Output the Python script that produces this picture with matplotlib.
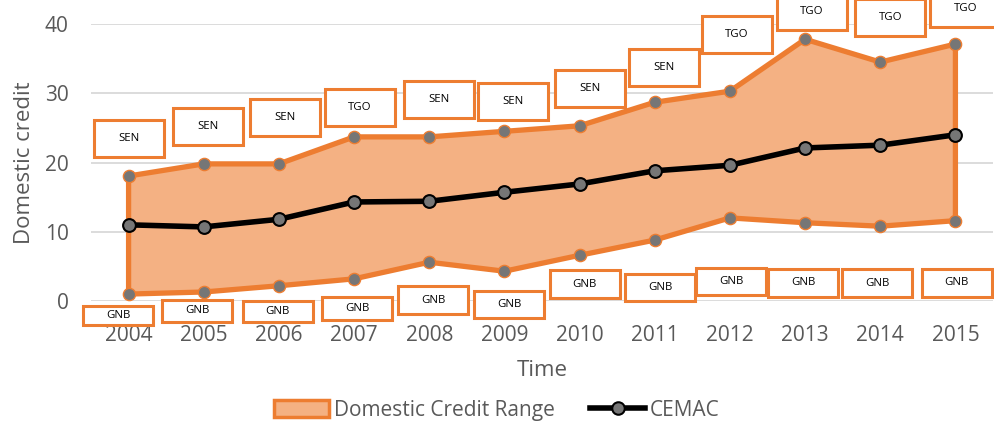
import matplotlib
matplotlib.use("Agg")
import matplotlib.pyplot as plt
import matplotlib.transforms as mtransforms
from matplotlib.patches import Rectangle, Patch
from matplotlib.lines import Line2D
import numpy as np

years = [2004, 2005, 2006, 2007, 2008, 2009, 2010, 2011, 2012, 2013, 2014, 2015]
range_high = [18.05, 19.8, 19.8, 23.7, 23.7, 24.5, 25.3, 28.7, 30.3, 37.8, 34.5, 37.1]
range_low = [1.0, 1.3, 2.2, 3.2, 5.6, 4.3, 6.6, 8.8, 12.0, 11.3, 10.8, 11.6]
cemac = [11.0, 10.7, 11.8, 14.3, 14.4, 15.7, 16.9, 18.8, 19.6, 22.1, 22.5, 24.0]
high_labels = ['SEN', 'SEN', 'SEN', 'TGO', 'SEN', 'SEN', 'SEN', 'SEN', 'TGO', 'TGO', 'TGO', 'TGO']
low_labels = ['GNB'] * 12

# label boxes: pixel offset of box centre from its point, box height (px)
high_offsets = [(0, 38), (4, 37), (6, 46), (6, 29.5), (10, 37.5), (9, 29.5),
                (10, 37.5), (9.5, 34.5), (7, 56.5), (6.5, 27.5), (10, 44.5), (10, 35.5)]
low_offsets = [(-10.5, -21.5), (-6.5, -19), (-1, -25.5), (3, -29.5), (4, -38), (5, -33.5),
               (5, -29), (5.5, -47.5), (1.5, -63.5), (-2, -60), (-3, -57), (1.5, -62)]
low_heights = [19, 22, 21, 23, 28, 27, 28, 27, 27, 28, 28, 28]

orange = '#ED7D31'
fill_col = '#F4B183'
grey_mk = '#767676'
txt_col = '#595959'

plt.rcParams['font.family'] = ['Open Sans', 'DejaVu Sans']

fig = plt.figure(figsize=(9.95, 4.23), dpi=100)
ax = fig.add_axes([91 / 995, 1 - 301 / 423, (993 - 91) / 995, (301 - 24) / 423])

yrs = np.array(years, dtype=float)
hi = np.array(range_high)
lo = np.array(range_low)

ax.fill(np.concatenate([yrs, yrs[::-1]]), np.concatenate([hi, lo[::-1]]),
        facecolor=fill_col, edgecolor=orange, linewidth=3.8, joinstyle='round', zorder=2)
ax.plot(yrs, hi, linestyle='none', marker='o', ms=8.8, mfc=grey_mk, mec=orange, mew=1, zorder=3)
ax.plot(yrs, lo, linestyle='none', marker='o', ms=8.8, mfc=grey_mk, mec=orange, mew=1, zorder=3)
ax.plot(yrs, cemac, color='black', lw=4, marker='o', ms=9.2, mfc=grey_mk, mec='black', mew=1.5,
        solid_joinstyle='round', zorder=4)


def label_box(x, y, text, dx, dy, w, h):
    tr = mtransforms.ScaledTranslation(x, y, ax.transData)
    rect = Rectangle((dx - w / 2, dy - h / 2), w, h, transform=tr, facecolor='white',
                     edgecolor=orange, linewidth=2.2, clip_on=False, zorder=6)
    ax.add_artist(rect)
    ax.annotate(text, xy=(x, y), xytext=(dx, dy), textcoords='offset pixels',
                ha='center', va='center', fontsize=8.2, color='black', zorder=7,
                annotation_clip=False)


for i in range(len(years)):
    label_box(yrs[i], hi[i], high_labels[i], high_offsets[i][0], high_offsets[i][1], 70, 37)
    label_box(yrs[i], lo[i], low_labels[i], low_offsets[i][0], low_offsets[i][1], 70, low_heights[i])

ax.set_xlim(2003.5, 2015.5)
ax.set_ylim(0, 40)
ax.set_yticks([0, 10, 20, 30, 40])
ax.set_xticks(years)
ax.grid(axis='y', color='#D9D9D9', lw=1.3, zorder=0)
ax.set_axisbelow(True)
for s in ax.spines.values():
    s.set_visible(False)
ax.tick_params(length=0, labelsize=15, colors=txt_col)
ax.tick_params(axis='y', pad=16)
ax.tick_params(axis='x', pad=17.5)
ax.set_xlabel('Time', fontsize=16, color=txt_col, labelpad=10)
ax.set_ylabel('Domestic credit', fontsize=16, color=txt_col, labelpad=7)

handles = [Patch(facecolor=fill_col, edgecolor=orange, linewidth=2.5),
           Line2D([], [], color='black', lw=4, marker='o', ms=9, mfc=grey_mk, mec='black', mew=1.5)]
fig.legend(handles, ['Domestic Credit Range', 'CEMAC'], loc='center',
           bbox_to_anchor=(497 / 995, 1 - 410 / 423), ncol=2, frameon=False,
           fontsize=15, labelcolor=txt_col, handlelength=2.64, handleheight=0.87,
           handletextpad=0.24, columnspacing=1.68)

fig.savefig('out.png', dpi=100)
